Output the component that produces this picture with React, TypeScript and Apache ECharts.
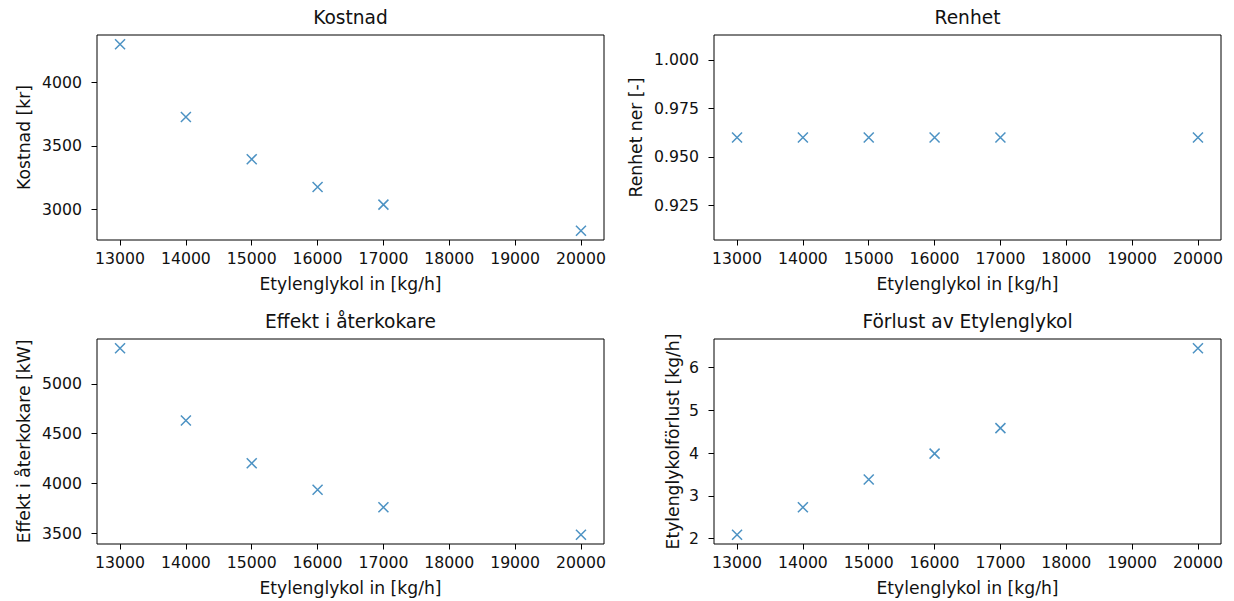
import React, { useEffect, useRef } from "react";
import * as echarts from "echarts";

const xValues = [13000, 14000, 15000, 16000, 17000, 20000];
const kostnad = [4303, 3729, 3395, 3175, 3036, 2830];
const renhet = [0.96, 0.96, 0.96, 0.96, 0.96, 0.96];
const effekt = [5358, 4632, 4203, 3938, 3761, 3486];
const forlust = [2.094, 2.734, 3.383, 3.99, 4.586, 6.453];

const xTicks = [13000, 14000, 15000, 16000, 17000, 18000, 19000, 20000];
const kostnadTicks = [3000, 3500, 4000];
const renhetTicks = [0.925, 0.95, 0.975, 1.0];
const effektTicks = [3500, 4000, 4500, 5000];
const forlustTicks = [2, 3, 4, 5, 6];

const titles = ["Kostnad", "Renhet", "Effekt i återkokare", "Förlust av Etylenglykol"];
const yNames = ["Kostnad [kr]", "Renhet ner [-]", "Effekt i återkokare [kW]", "Etylenglykolförlust [kg/h]"];
const xName = "Etylenglykol in [kg/h]";

const FONT = "DejaVu Sans";
const BLUE = "#1f77b4";
const TXT = "#111";
const TICK_FS = 15.7;
const LABEL_FS = 17.2;
const TITLE_FS = 18.6;

function range(vals: number[]): [number, number] {
  let lo = Math.min(...vals);
  let hi = Math.max(...vals);
  if (lo === hi) {
    const d = Math.abs(lo) * 0.05;
    lo -= d;
    hi += d;
  }
  const m = (hi - lo) * 0.05;
  return [lo - m, hi + m];
}

export default function App() {
  const ref = useRef<HTMLDivElement>(null);
  useEffect(() => {
    if (!ref.current) return;
    const chart = echarts.init(ref.current, null, { renderer: "svg" });
    const panels = [
      { left: 97, top: 35, data: kostnad, ticks: kostnadTicks, dec: 0, gap: 65 },
      { left: 714, top: 35, data: renhet, ticks: renhetTicks, dec: 3, gap: 70 },
      { left: 97, top: 339, data: effekt, ticks: effektTicks, dec: 0, gap: 65 },
      { left: 714, top: 339, data: forlust, ticks: forlustTicks, dec: 0, gap: 33 },
    ];
    const W = 507;
    const H = 205;
    const xr = range(xValues);
    const option: any = {
      animation: false,
      backgroundColor: "#fff",
      grid: panels.map((p) => ({
        left: p.left,
        top: p.top,
        width: W,
        height: H,
        show: true,
        borderColor: "#000",
        borderWidth: 1,
        backgroundColor: "transparent",
        containLabel: false,
      })),
      xAxis: panels.map((p, i) => ({
        type: "value",
        gridIndex: i,
        min: xr[0],
        max: xr[1],
        name: xName,
        nameLocation: "middle",
        nameGap: 35.5,
        nameTextStyle: { fontFamily: FONT, fontSize: LABEL_FS, color: TXT },
        axisLine: { show: false },
        splitLine: { show: false },
        axisTick: { show: true, inside: false, length: 5.5, lineStyle: { color: "#000", width: 1 }, customValues: xTicks },
        axisLabel: {
          show: true,
          margin: 10.5,
          fontFamily: FONT,
          fontSize: TICK_FS,
          color: TXT,
          customValues: xTicks,
          formatter: (v: number) => String(Math.round(v)),
        },
      })),
      yAxis: panels.map((p, i) => {
        const yr = range(p.data);
        return {
          type: "value",
          gridIndex: i,
          min: yr[0],
          max: yr[1],
          name: yNames[i],
          nameLocation: "middle",
          nameRotate: 90,
          nameGap: p.gap,
          nameTextStyle: { fontFamily: FONT, fontSize: LABEL_FS, color: TXT },
          axisLine: { show: false },
          splitLine: { show: false },
          axisTick: { show: true, inside: false, length: 5.5, lineStyle: { color: "#000", width: 1 }, customValues: p.ticks },
          axisLabel: {
            show: true,
            margin: 15,
            fontFamily: FONT,
            fontSize: TICK_FS,
            color: TXT,
            customValues: p.ticks,
            formatter: (v: number) => v.toFixed(p.dec),
          },
        };
      }),
      series: panels.map((p, i) => ({
        type: "scatter",
        xAxisIndex: i,
        yAxisIndex: i,
        data: xValues.map((x, j) => [x, p.data[j]]),
        symbol: "path://M0,0L10,10M10,0L0,10",
        symbolSize: 10,
        itemStyle: { color: "transparent", borderColor: BLUE, borderWidth: 1.5 },
        emphasis: { disabled: true },
      })),
      graphic: panels.map((p, i) => ({
        type: "text",
        x: p.left + W / 2,
        y: p.top - 18,
        style: {
          text: titles[i],
          textAlign: "center",
          textVerticalAlign: "middle",
          font: `${TITLE_FS}px "${FONT}"`,
          fill: TXT,
        },
      })),
    };
    chart.setOption(option);
    return () => chart.dispose();
  }, []);
  return (
    <div
      ref={ref}
      style={{ position: "fixed", left: 0, top: 0, width: 1234, height: 601, background: "#fff" }}
    />
  );
}
